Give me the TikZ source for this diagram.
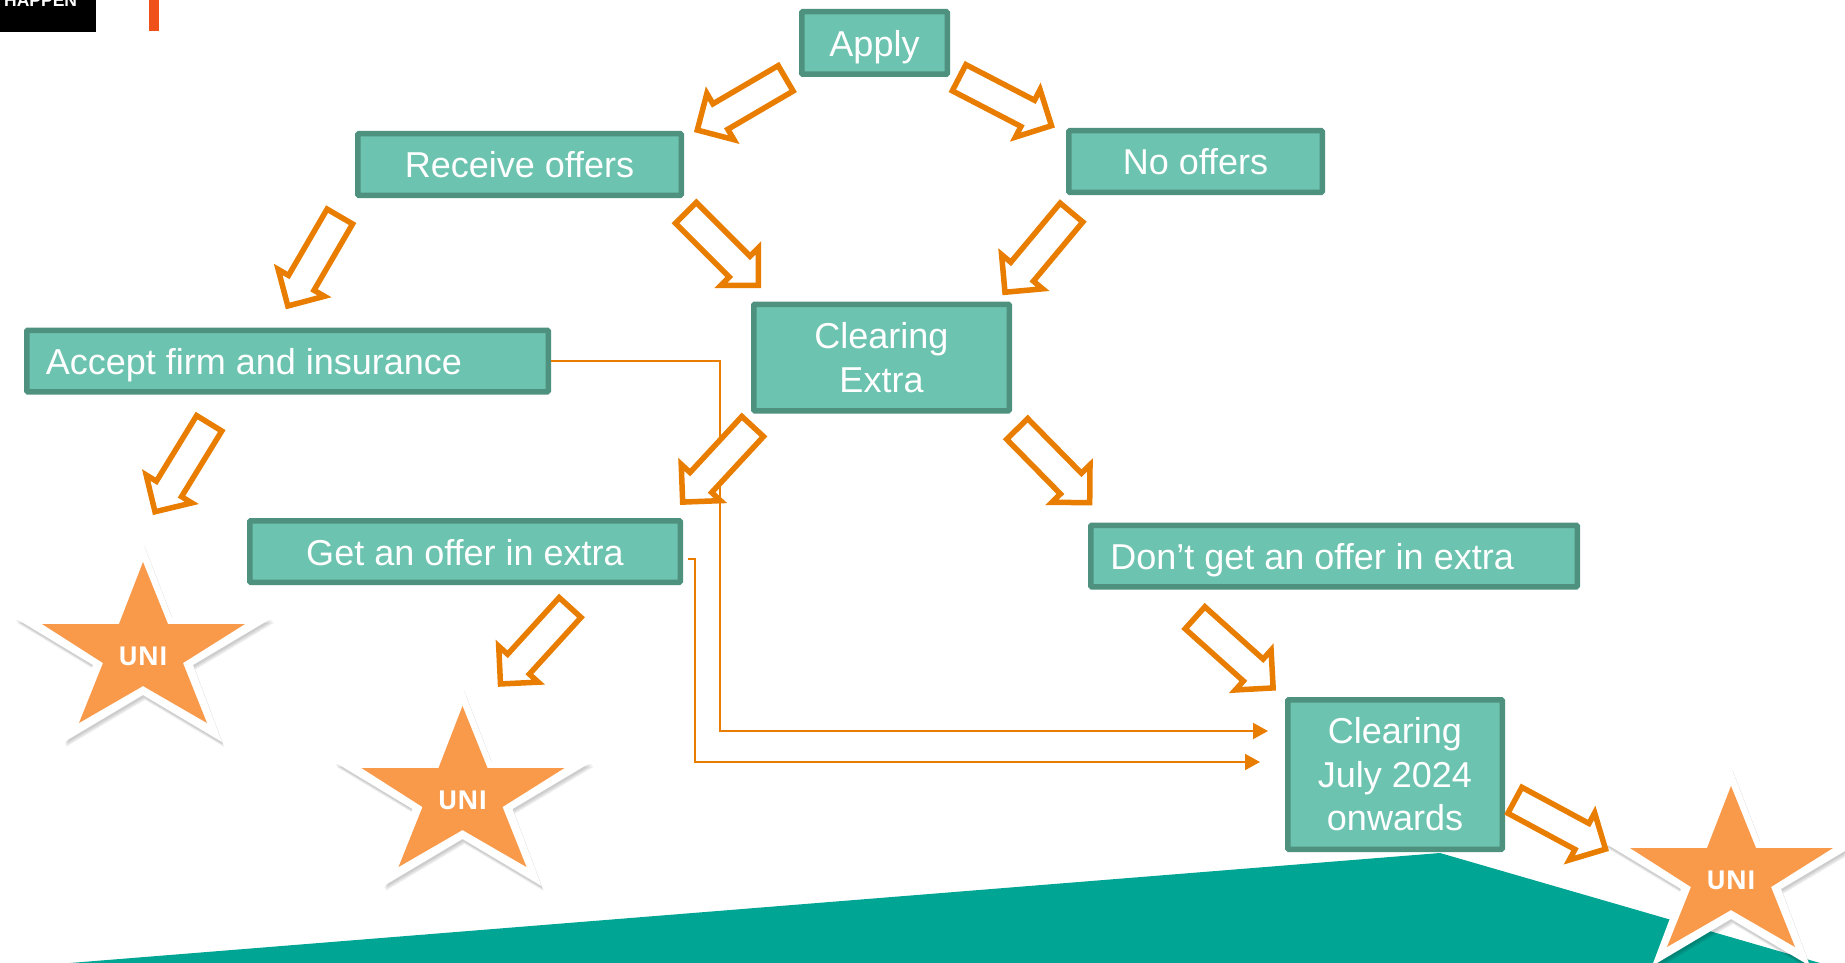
\documentclass[tikz,border=0pt]{standalone}
\usepackage{fontspec}
\setmainfont{Liberation Sans}
\newfontfamily\unifont{Open Sans}
\usetikzlibrary{shapes.arrows,calc,arrows.meta}
\definecolor{boxfill}{HTML}{6CC3AF}
\definecolor{boxline}{HTML}{4F917F}
\definecolor{arrowor}{HTML}{E87D00}
\definecolor{starfill}{HTML}{F9994A}
\definecolor{tealbg}{HTML}{00A594}
\definecolor{logoor}{HTML}{F05019}
\tikzset{
  box/.style={draw=boxline,fill=boxfill,line width=5.5pt,rounded corners=1pt,text=white,
    font=\fontsize{36}{43.5}\selectfont,align=center,inner sep=0pt},
  oneline/.style={text height=33.6pt,text depth=6.6pt},
  hollow/.style={single arrow,draw=arrowor,fill=white,line width=5.5pt,miter limit=10,
    single arrow tip angle=90,single arrow head extend=12pt,
    inner sep=0pt,outer sep=0pt,anchor=tail},
  link/.style={draw=arrowor,line width=2pt},
  unitext/.style={text=white,font=\unifont\bfseries\fontsize{26}{30}\selectfont,inner sep=0pt}
}
\newcommand{\hollowarrow}[3]{%
  \coordinate (#1t) at (#2);
  \coordinate (#1p) at (#3);
  \path let \p1=($(#1p)-(#1t)$), \n1={atan2(\y1,\x1)}, \n2={veclen(\x1,\y1)-6.5pt} in
    node[hollow,rotate=\n1,minimum height=\n2] (#1) at ($(#1t)!2.7pt!(#1p)$) {\rule{0pt}{24pt}};
}
\newcommand{\starwhite}{(0,-19)--(29,56)--(129,56)--(50,103)--(79,180)--(0,133)--(-79,180)--(-50,103)--(-128,56)--(-30,56)--cycle}
\newcommand{\unistar}[2]{%
  \begin{scope}[shift={(#2)}]
    \fill[black,opacity=.05,shift={(1,2)}] \starwhite;
    \fill[black,opacity=.05,shift={(1,3)}] \starwhite;
    \fill[black,opacity=.05,shift={(2,4)}] \starwhite;
    \fill[black,opacity=.05,shift={(2,5)}] \starwhite;
    \fill[white] \starwhite;
    \fill[starfill] (0,0)--(25,62)--(102,62)--(40,101)--(64,161)--(0,124)--(-64,161)--(-40,101)--(-101,62)--(-24,62)--cycle;
    \node[unitext] (#1) at (0,94) {UNI};
  \end{scope}
}
\begin{document}
\begin{tikzpicture}[x=1pt,y=-1pt]
\useasboundingbox (0,0) rectangle (1845,963);
\clip (0,0) rectangle (1845,963);
\fill[white] (0,0) rectangle (1845,963);
% background and logo fragments
\fill[tealbg] (70,963)--(1440,853)--(1820,963)--cycle;
\fill[black] (0,0) rectangle (96,32);
\node[text=white,font=\bfseries\fontsize{17.5}{20}\selectfont,anchor=base west,inner sep=0pt] (happen) at (4,7) {HAPPEN};
\fill[logoor] (149,0) rectangle (159,31);
% boxes
\node[box,oneline,minimum width=145.5pt,minimum height=62.5pt] (apply) at (874.5,43) {Apply};
\node[box,oneline,minimum width=323.5pt,minimum height=61.5pt] (receive) at (519.5,164.5) {Receive offers};
\node[box,oneline,minimum width=253.5pt,minimum height=61.5pt] (nooffers) at (1195.5,161.5) {No offers};
\node[box,minimum width=255.5pt,minimum height=106.5pt] (clearing) at (881.5,357.5) {Clearing\\Extra};
\node[box,oneline,minimum width=521.5pt,minimum height=61.5pt] (accept) at (287.5,361) {\makebox[483.5pt][l]{Accept firm and insurance}};
\node[box,oneline,minimum width=430.5pt,minimum height=61.5pt] (getextra) at (465,551.5) {Get an offer in extra};
\node[box,oneline,minimum width=486.5pt,minimum height=61.5pt] (dontextra) at (1334,556) {\makebox[447.5pt][l]{Don’t get an offer in extra}};
\node[box,minimum width=214.5pt,minimum height=149.5pt] (july) at (1395,774.5) {Clearing\\July 2024\\onwards};
% thin connectors
\coordinate (endA) at (1268,731);
\coordinate (bendA) at (720,731);
\coordinate (endB) at (1260,762);
\coordinate (bendB) at (694.5,762);
\coordinate (startB) at (688,559);
\draw[link,-{Triangle[length=15pt,width=16pt]}] (accept.east) -| (bendA) -- (endA);
\draw[link,-{Triangle[length=15pt,width=16pt]}] (startB) -| (bendB) -- (endB);
% stars
\unistar{starA}{143,562}
\unistar{starB}{462.5,706}
\unistar{starC}{1731,786}
% hollow block arrows
\hollowarrow{aA}{788,77}{694,132}
\hollowarrow{aB}{956.7,76.5}{1055,127.5}
\hollowarrow{aC}{341.2,214.2}{285.9,309.3}
\hollowarrow{aD}{684,211}{761.3,288.3}
\hollowarrow{aE}{1073.2,210.5}{1002.5,295.2}
\hollowarrow{aF}{210.6,421}{153,515}
\hollowarrow{aG}{754.5,424.5}{680,505}
\hollowarrow{aH}{1015.3,427}{1092.5,505.5}
\hollowarrow{aI}{571.9,605.5}{497.7,687}
\hollowarrow{aJ}{1193,616}{1276,690.5}
\hollowarrow{aK}{1512.5,799}{1609,851}
\end{tikzpicture}
\end{document}
